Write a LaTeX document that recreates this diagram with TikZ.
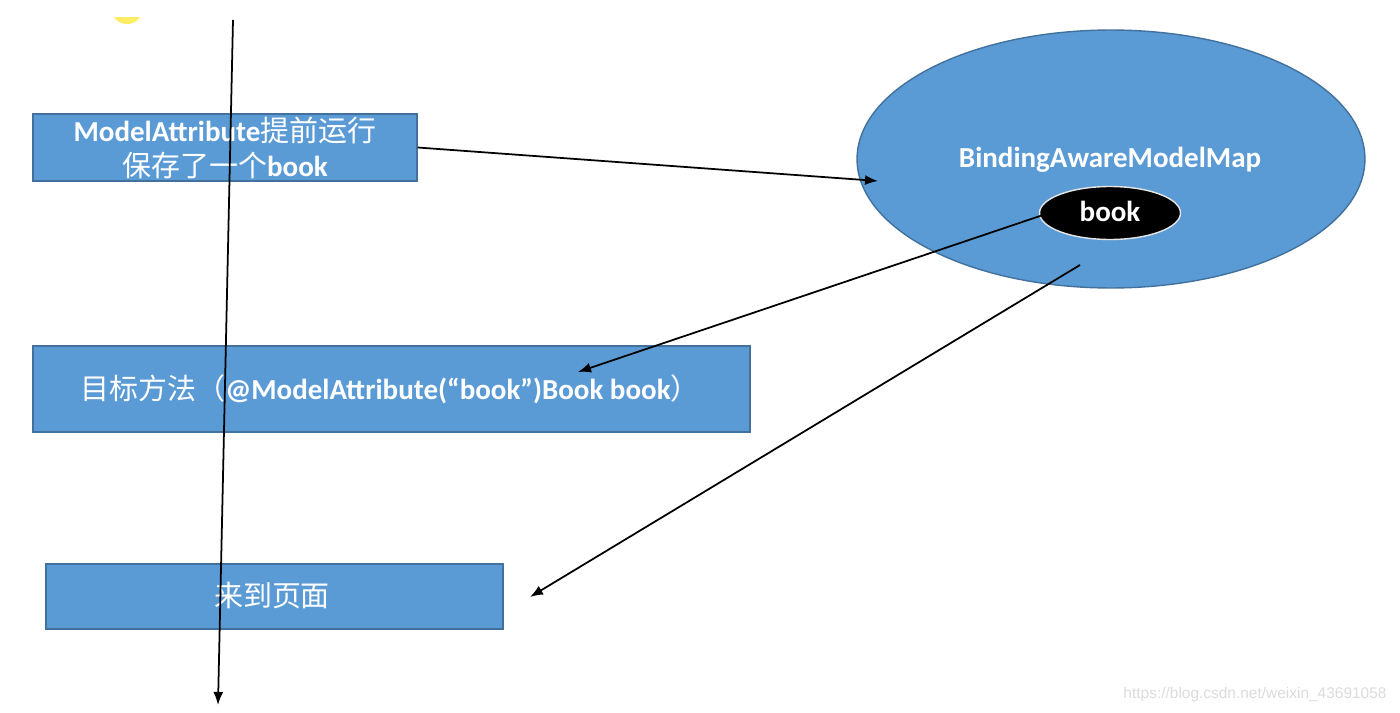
\documentclass[tikz,border=0pt]{standalone}
\usepackage{fontspec}
\setmainfont{Carlito}
\newfontfamily\cjk{Noto Sans CJK SC}
\newfontfamily\wm{Liberation Sans}
\usetikzlibrary{arrows.meta,shapes.geometric}
\definecolor{boxblue}{HTML}{5B9BD5}
\definecolor{boxedge}{HTML}{41719C}
\definecolor{wmgrey}{HTML}{DCDCDC}
\tikzset{
  bluebox/.style={draw=boxedge, line width=0.8pt, fill=boxblue, rectangle, inner sep=0pt},
  lbl/.style={text=white, font=\fontsize{16.5}{19.5}\selectfont\bfseries, inner sep=0pt, align=center},
  conn/.style={line width=1pt, -{Latex[length=2.6mm,width=2mm]}},
}
\begin{document}
\begin{tikzpicture}[x=0.02cm, y=-0.02cm]
\useasboundingbox (0,0) rectangle (1400,713);
\fill[white] (0,0) rectangle (1400,713);
% yellow artifact
\begin{scope}
\clip (100,18) rectangle (160,30);
\fill[yellow!85!orange!60] (127,14) ellipse [x radius=0.27cm, y radius=0.2cm];
\end{scope}
% boxes
\node[bluebox, minimum width=7.68cm, minimum height=1.34cm] (b1) at (225,147.5) {};
\node[lbl] (t1) at (225,148) {ModelAttribute{\cjk\mdseries 提前运行}\\{\cjk\mdseries 保存了一个}book};
\node[bluebox, minimum width=14.34cm, minimum height=1.72cm] (b2) at (391.5,389) {};
\node[lbl, anchor=west] (t2) at (80,389) {{\cjk\mdseries 目标方法（}@ModelAttribute(“book”)Book book{\cjk\mdseries ）}};
\node[bluebox, minimum width=9.14cm, minimum height=1.30cm] (b3) at (274.5,596.5) {};
\node[lbl] (t3) at (272,596) {\cjk\mdseries 来到页面};
% ellipse
\node[ellipse, draw=boxedge, line width=0.8pt, fill=boxblue, minimum width=10.16cm, minimum height=5.16cm, inner sep=0pt] (map) at (1111,159) {};
\node[lbl] (tm) at (1110,160) {BindingAwareModelMap};
\node[ellipse, draw=white!80!gray, line width=0.8pt, fill=black, minimum width=2.82cm, minimum height=1.06cm, inner sep=0pt] (bk) at (1110,213) {};
\node[lbl] (tb) at (1110,211) {book};
% connectors
\coordinate (v0) at (233,20);
\coordinate (v1) at (218,705);
\coordinate (a1) at (878,181);
\coordinate (a2s) at (1043,215);
\coordinate (a2) at (578,372);
\coordinate (a3s) at (1080,265);
\coordinate (a3) at (530,597);
\draw[conn] (b1.east) -- (a1);
\draw[conn] (a2s) -- (a2);
\draw[conn] (a3s) -- (a3);
\draw[conn] (v0) -- (v1);
% watermark
\node[text=wmgrey, font=\wm\fontsize{8.8}{10}\selectfont, inner sep=0pt] (wm) at (1255,694) {https://blog.csdn.net/weixin\_43691058};
\end{tikzpicture}
\end{document}
